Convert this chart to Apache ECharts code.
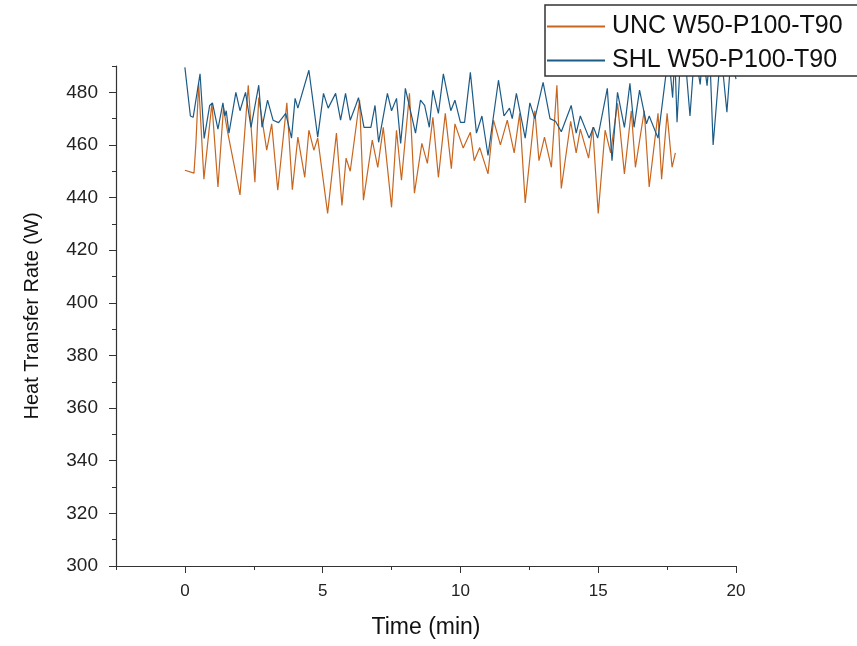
<!DOCTYPE html>
<html>
<head>
<meta charset="utf-8">
<script src="https://cdn.jsdelivr.net/npm/echarts@6/dist/echarts.min.js"></script>
<style>
    html, body { margin: 0; padding: 0; background: #fff; }
    #chart1 { width: 857px; height: 646px; }
</style>
</head>
<body>
<div id="chart1"></div>
<script>
// 数据
var uncTime = [0, 0.33, 0.4, 0.5, 0.69, 0.98, 1.2, 1.4, 1.55, 2.0, 2.3, 2.54, 2.68, 2.97, 3.15, 3.37, 3.7, 3.9,
    4.1, 4.35, 4.5, 4.68, 4.82, 5.18, 5.5, 5.7, 5.85, 6.0, 6.34, 6.48, 6.8, 7.0, 7.2, 7.5, 7.68, 7.86,
    8.15, 8.33, 8.6, 8.8, 9.0, 9.2, 9.45, 9.67, 9.8, 10.1, 10.36, 10.5, 10.7, 11.0, 11.2, 11.45, 11.7, 11.95,
    12.15, 12.35, 12.7, 12.85, 13.05, 13.3, 13.5, 13.66, 14.0, 14.2, 14.35, 14.65, 14.8, 15.0, 15.25, 15.45,
    15.7, 15.95, 16.2, 16.35, 16.67, 16.85, 17.17, 17.3, 17.5, 17.68, 17.8]
var uncRate = [450.4, 449.3, 460.6, 483.4, 447, 475.8, 444, 474, 465, 441, 482.7, 445.8, 478, 458, 468, 442.8, 476, 443,
    463, 447.7, 465.6, 458, 462.6, 434, 464.5, 437, 455, 450, 477, 439, 461.8, 451.5, 466.7, 436.3, 465.6, 446.6,
    479.6, 441.7, 460.6, 453, 470.5, 447.7, 472, 451, 468, 458.8, 464.8, 454, 459, 449, 469.4, 460, 469.4, 457,
    472, 438, 473, 454, 463, 451.5, 482.7, 443.5, 469, 457, 466, 455, 466.7, 434, 465.6, 457,
    475.8, 449, 473, 451.5, 473, 444, 472, 447, 472, 451.5, 457]

var shlTime = [0, 0.2, 0.3, 0.55, 0.7, 0.9, 1.0, 1.2, 1.38, 1.45, 1.5, 1.6, 1.85, 2.0, 2.2, 2.4, 2.68, 2.8, 3.0, 3.2,
    3.4, 3.66, 3.87, 4.0, 4.1, 4.5, 4.82, 5.03, 5.2, 5.47, 5.65, 5.83, 6.0, 6.2, 6.3, 6.5, 6.75, 6.9, 7.03, 7.35,
    7.5, 7.68, 7.83, 7.95, 8.0, 8.37, 8.55, 8.7, 8.87, 9.0, 9.2, 9.38, 9.65, 9.8, 10.0, 10.15, 10.36, 10.58, 10.78,
    11.0, 11.38, 11.58, 11.78, 11.88, 12.03, 12.35, 12.52, 12.7, 13.0, 13.25, 13.45, 13.66, 14.02, 14.2, 14.35,
    14.67, 14.83, 14.98, 15.33, 15.5, 15.7, 15.95, 16.0, 16.15, 16.3, 16.5, 16.75, 16.85, 17.17, 17.46, 17.55,
    17.7, 17.78, 17.86, 18.0, 18.15, 18.33, 18.5, 18.7, 18.8, 18.95, 19.05, 19.17, 19.45, 19.67, 19.82, 20.0]
var shlRate = [489.5, 471, 470.5, 487, 462.5, 475, 476, 466, 476, 471, 473, 464.5, 480, 473, 480, 466.7, 482.7, 466.7, 477, 469.4,
    468.5, 472, 462.6, 477.7, 474, 488.4, 463, 479.6, 474, 479.6, 469.4, 479.6, 469.4, 475, 478, 466.7, 466.7, 475, 461, 479.6,
    473, 477.7, 460.6, 474, 481.5, 464.5, 477, 475, 466.7, 480.8, 472, 487, 473, 477, 468.6, 468.6, 487.6, 464.5, 471,
    456, 484.6, 471, 474, 470, 479.6, 462.6, 476, 470, 483.8, 470, 469, 465, 475, 464.5, 471,
    462.6, 466.7, 462.6, 481.5, 454, 480, 466.7, 470.5, 483.4, 466.7, 480.8, 468, 471, 462.6, 487, 495,
    478, 494, 468.6, 496, 494, 471, 496, 483, 495, 482.5, 494, 460, 496, 472.4, 494, 485]

var seriesNames = ['UNC W50-P100-T90', 'SHL W50-P100-T90']
var xTickLabels = [0, 5, 10, 15, 20]
var xMinorTicks = [-2.5, 2.5, 7.5, 12.5, 17.5]
var yTickLabels = [300, 320, 340, 360, 380, 400, 420, 440, 460, 480]
var yMinorTicks = [310, 330, 350, 370, 390, 410, 430, 450, 470, 490]

function zip (xs, ys) {
    return xs.map(function (x, i) { return [x, ys[i]] })
}

$init()

function $init () {
    var myChart = echarts.init(document.getElementById('chart1'))
    var font = 'Liberation Sans, Arial, sans-serif'
    var axisColor = '#333333'
    var option = {
        animation: false,
        textStyle: { fontFamily: font },
        grid: {
            left: 116,
            right: 121,
            top: 66,
            bottom: 80
        },
        legend: {
            orient: 'vertical',
            left: 545,
            top: 5,
            padding: [9, 60, 3, 2],
            itemGap: 9,
            itemWidth: 58,
            itemHeight: 2,
            icon: 'rect',
            backgroundColor: '#ffffff',
            borderColor: '#333333',
            borderWidth: 1.5,
            borderRadius: 0,
            z: 10,
            textStyle: { fontSize: 25, color: '#111', fontFamily: font, padding: [0, 0, 0, 2] },
            data: seriesNames
        },
        xAxis: [{
            type: 'value',
            min: -2.5,
            max: 20,
            name: 'Time (min)',
            nameLocation: 'middle',
            nameGap: 50,
            nameTextStyle: { fontSize: 23, color: '#111' },
            axisLine: { onZero: false, lineStyle: { color: axisColor, width: 1.2 } },
            axisTick: { customValues: xTickLabels, length: 7, lineStyle: { color: axisColor } },
            axisLabel: { customValues: xTickLabels, margin: 17, fontSize: 17, color: '#222' },
            splitLine: { show: false }
        }, {
            type: 'value',
            min: -2.5,
            max: 20,
            position: 'bottom',
            offset: 0,
            axisLine: { show: false, onZero: false },
            axisTick: { customValues: xMinorTicks, length: 4, lineStyle: { color: axisColor } },
            axisLabel: { show: false },
            splitLine: { show: false }
        }],
        yAxis: [{
            type: 'value',
            min: 300,
            max: 490,
            name: 'Heat Transfer Rate (W)',
            nameLocation: 'middle',
            nameGap: 74,
            nameTextStyle: { fontSize: 20, color: '#111' },
            axisLine: { show: true, onZero: false, lineStyle: { color: axisColor, width: 1.2 } },
            axisTick: { show: true, customValues: yTickLabels, length: 7, lineStyle: { color: axisColor } },
            axisLabel: { customValues: yTickLabels, margin: 18, fontSize: 19, color: '#222' },
            splitLine: { show: false }
        }, {
            type: 'value',
            min: 300,
            max: 490,
            position: 'left',
            offset: 0,
            axisLine: { show: false, onZero: false },
            axisTick: { show: true, customValues: yMinorTicks, length: 4, lineStyle: { color: axisColor } },
            axisLabel: { show: false },
            splitLine: { show: false }
        }],
        series: [
            {
                name: seriesNames[0],
                type: 'line',
                showSymbol: false,
                clip: true,
                color: '#c8661f',
                lineStyle: { width: 1.2 },
                data: zip(uncTime, uncRate)
            },
            {
                name: seriesNames[1],
                type: 'line',
                showSymbol: false,
                clip: true,
                color: '#1d5b87',
                lineStyle: { width: 1.2 },
                data: zip(shlTime, shlRate)
            }
        ]
    }
    myChart.setOption(option)
}
</script>
</body>
</html>
